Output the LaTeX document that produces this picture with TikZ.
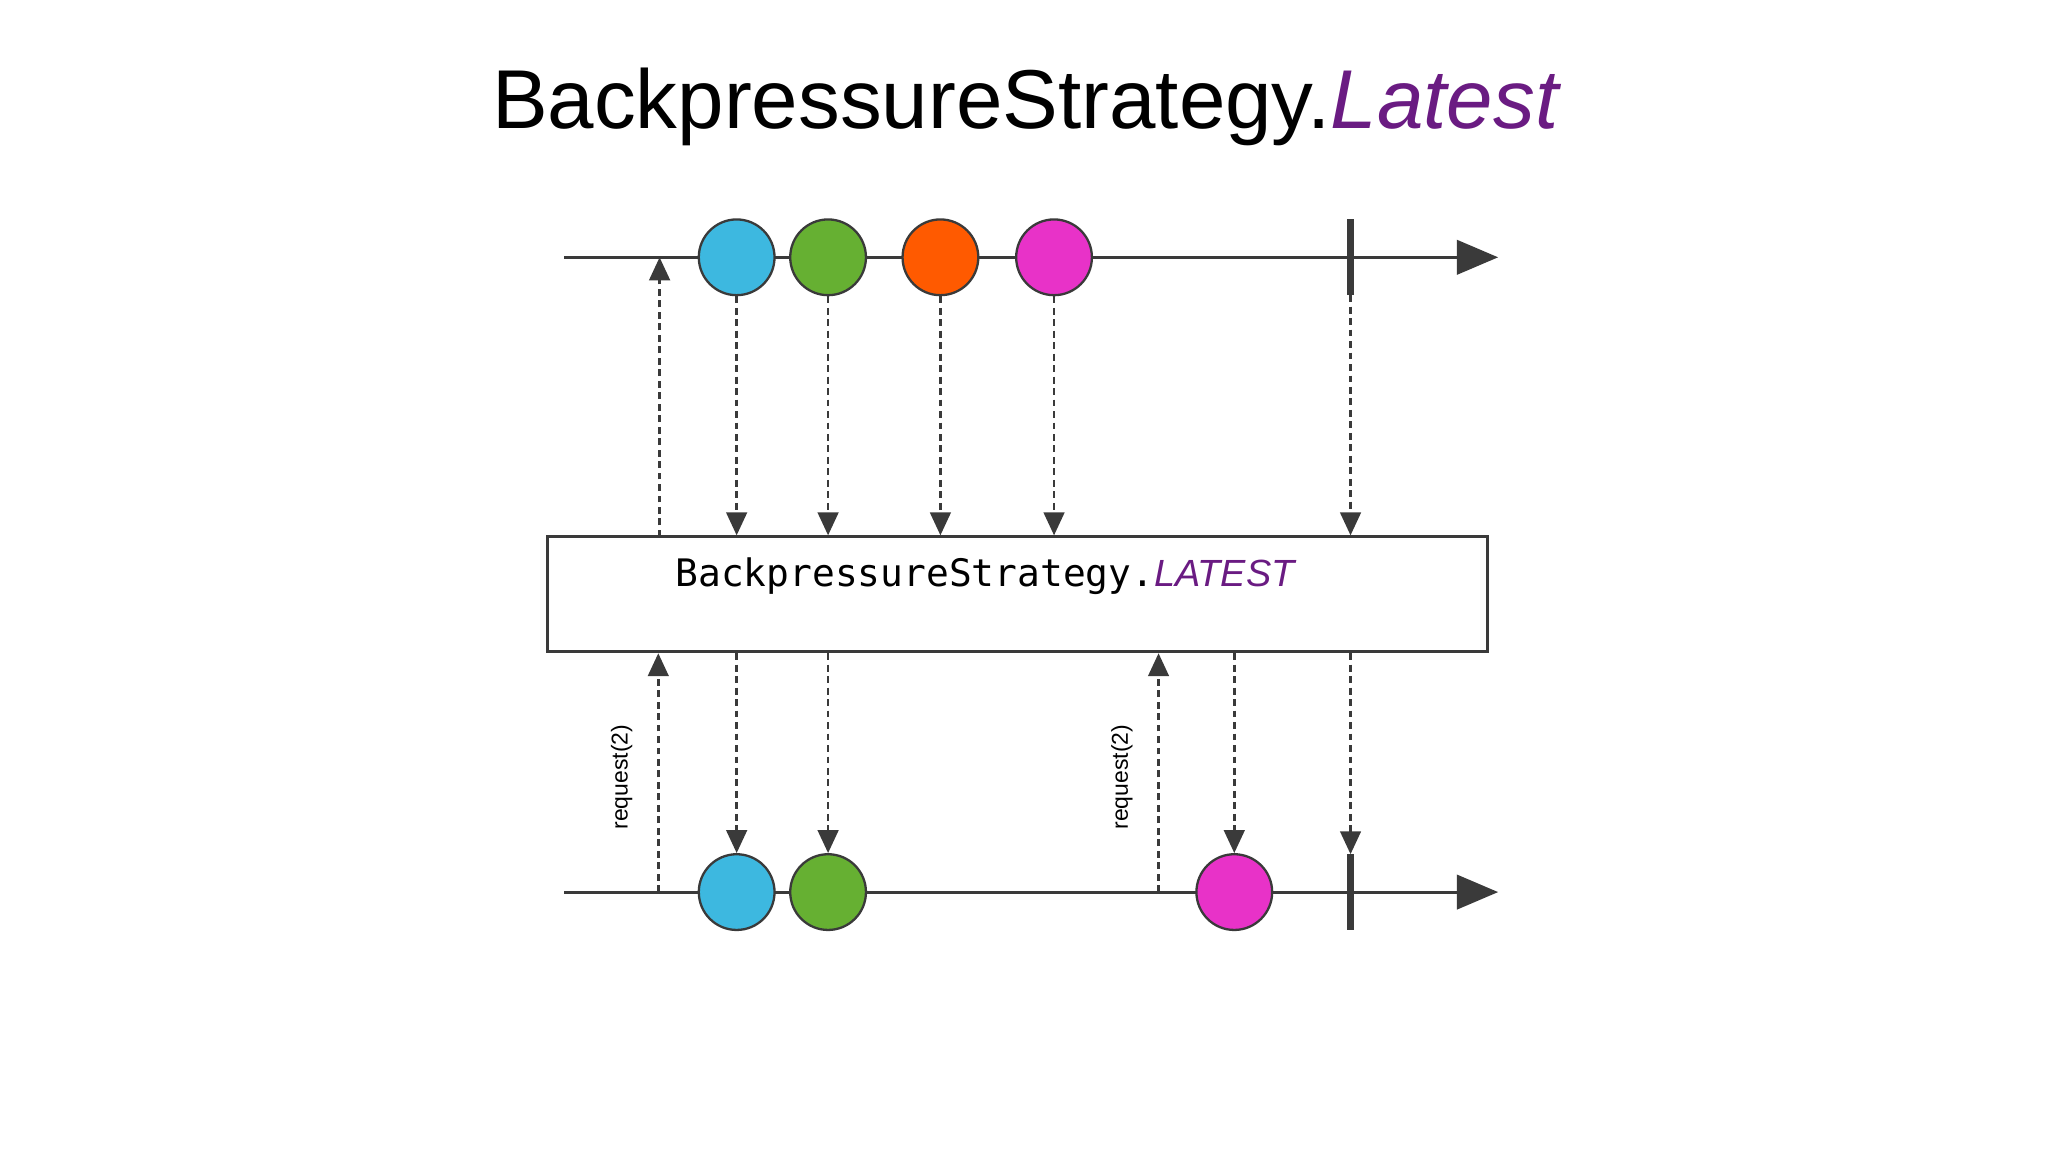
\documentclass[tikz,border=0pt]{standalone}
\usepackage{fontspec}
\setmainfont{Liberation Sans}
\newfontfamily\monofont{DejaVu Sans Mono}
\usepackage{xcolor}
\usetikzlibrary{positioning,arrows.meta,calc}

\definecolor{ballblue}{HTML}{3DB8E0}
\definecolor{ballgreen}{HTML}{66B032}
\definecolor{ballorange}{HTML}{FF5A00}
\definecolor{ballpink}{HTML}{E832C8}
\definecolor{titlepurple}{HTML}{6A1B82}
\definecolor{linegray}{HTML}{3A3A3A}

\begin{document}
\begin{tikzpicture}[
    x=0.02cm, y=-0.02cm,
    >={Triangle[length=10pt,width=9pt]},
    timeline/.style={draw=linegray, line width=1.3pt, -{Triangle[length=18pt,width=15pt]}},
    ball/.style={circle, draw=linegray, line width=1pt, minimum size=1.16cm, inner sep=0pt},
    stopbar/.style={draw=linegray, line width=3pt},
    signal/.style={draw=linegray, line width=1.1pt, dash pattern=on 3pt off 2pt, ->, color=linegray},
    opbox/.style={draw=linegray, line width=1.3pt, minimum width=14.4cm, minimum height=1.76cm, inner sep=0pt},
    reqlabel/.style={rotate=90, font=\fontsize{10}{12}\selectfont}
]
\useasboundingbox (0,0) rectangle (1568,882);

% title
\node (title) at (786,82) {\fontsize{36.4}{44}\selectfont BackpressureStrategy.\textcolor{titlepurple}{\textit{Latest}}};

% upstream timeline
\coordinate (tstart) at (432,197);
\coordinate (tend) at (1147,197);
\draw[timeline] (tstart) -- (tend);
\node[ball, fill=ballblue] (t1) at (564,197) {};
\node[ball, fill=ballgreen] (t2) at (634,197) {};
\node[ball, fill=ballorange] (t3) at (720,197) {};
\node[ball, fill=ballpink] (t4) at (807,197) {};
\coordinate (tbartop) at (1034,168);
\coordinate (tbarbot) at (1034,226);
\draw[stopbar] (tbartop) -- (tbarbot);

% operator box
\node[opbox] (op) at (779,455) {};
\node[anchor=west] (optext) at (511,441) {\fontsize{16.5}{20}\selectfont\monofont BackpressureStrategy.\textcolor{titlepurple}{\textit{\rmfamily LATEST}}};

% downstream timeline
\coordinate (bstart) at (432,683);
\coordinate (bend) at (1147,683);
\draw[timeline] (bstart) -- (bend);
\node[ball, fill=ballblue] (b1) at (564,683) {};
\node[ball, fill=ballgreen] (b2) at (634,683) {};
\node[ball, fill=ballpink] (b3) at (945,683) {};
\coordinate (bbartop) at (1034,654);
\coordinate (bbarbot) at (1034,712);
\draw[stopbar] (bbartop) -- (bbarbot);

% emissions into the operator
\foreach \b in {t1,t2,t3,t4}
    \draw[signal] (\b.south) -- (\b.south |- op.north);
\draw[signal] (tbarbot) -- (tbarbot |- op.north);

% emissions out of the operator
\foreach \b in {b1,b2,b3}
    \draw[signal] (\b.north |- op.south) -- (\b.north);
\draw[signal] (bbartop |- op.south) -- (bbartop);

% requests
\coordinate (ureq) at (505,411);
\coordinate (ureqs) at (505,197);
\draw[signal] (ureq) -- (ureqs);
\coordinate (req1) at (504,683);
\coordinate (req2) at (887,683);
\draw[signal] (req1) -- (req1 |- op.south);
\draw[signal] (req2) -- (req2 |- op.south);
\node[reqlabel] (req1lbl) at (476,595) {request(2)};
\node[reqlabel] (req2lbl) at (859,595) {request(2)};

\end{tikzpicture}
\end{document}
